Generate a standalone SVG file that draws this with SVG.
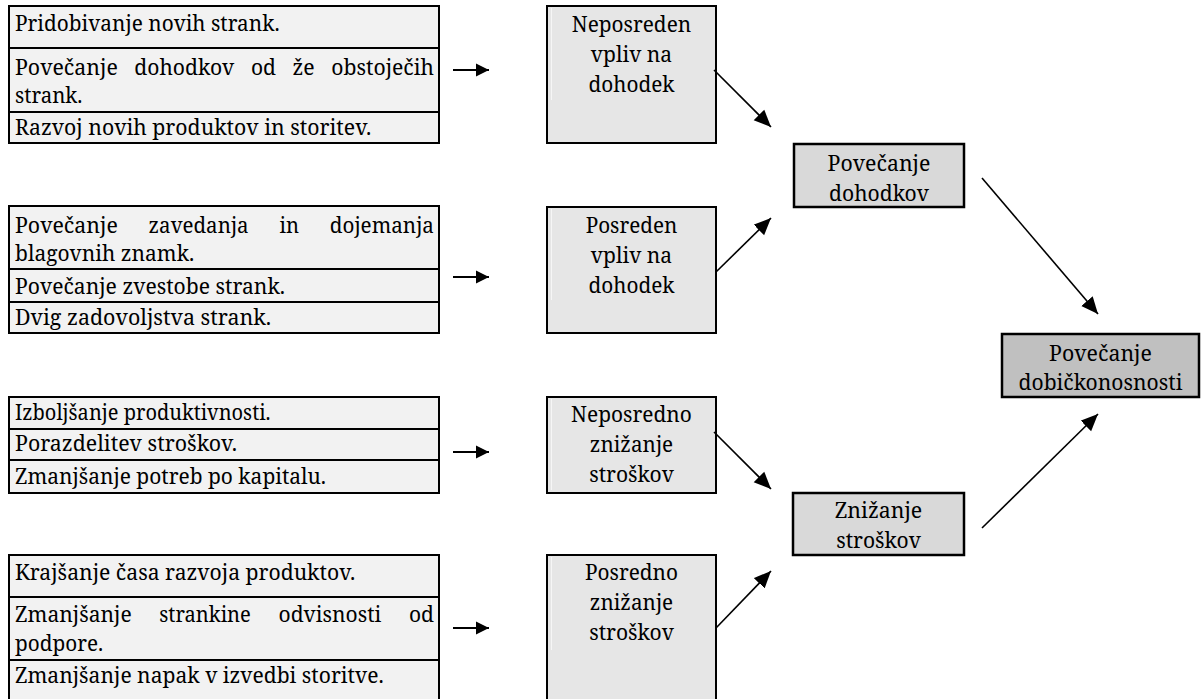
<svg xmlns="http://www.w3.org/2000/svg" width="1202" height="699" viewBox="0 0 1202 699">
<defs>
<style>
.t{font-family:'Noto Serif','DejaVu Serif','Liberation Serif',serif;font-size:21.5px;fill:#000}
.c{text-anchor:middle}
.row{fill:#f2f2f2;stroke:#000;stroke-width:2}
.mid{fill:#e6e6e6;stroke:#000;stroke-width:2}
.res{fill:#d9d9d9;stroke:#000;stroke-width:2.5}
.fin{fill:#c0c0c0;stroke:#000;stroke-width:2.5}
.hl{stroke:#f6f6f6;stroke-width:1}
.ar{stroke:#000;stroke-width:2;fill:none}
.dg{stroke:#000;stroke-width:1.6;fill:none}
</style>
<marker id="hs" markerUnits="userSpaceOnUse" markerWidth="14" markerHeight="14" refX="13" refY="7" orient="auto"><path d="M0,0.5 L13,7 L0,13.5 z" fill="#000"/></marker>
<marker id="hd" markerUnits="userSpaceOnUse" markerWidth="18" markerHeight="16" refX="17" refY="8" orient="auto"><path d="M0,0.5 L17,8 L0,15.5 z" fill="#000"/></marker>
</defs>
<rect width="1202" height="699" fill="#fff"/>

<g id="group1">
<rect class="row" x="9" y="6" width="430" height="42"/>
<rect class="row" x="9" y="48" width="430" height="64"/>
<rect class="row" x="9" y="112" width="430" height="31"/>
<text class="t" x="15" y="31" textLength="264.6" lengthAdjust="spacingAndGlyphs">Pridobivanje novih strank.</text>
<text class="t" x="15" y="75" textLength="102.8" lengthAdjust="spacingAndGlyphs">Povečanje</text>
<text class="t" x="134.3" y="75" textLength="100" lengthAdjust="spacingAndGlyphs">dohodkov</text>
<text class="t" x="250.9" y="75" textLength="25" lengthAdjust="spacingAndGlyphs">od</text>
<text class="t" x="292.4" y="75" textLength="22.2" lengthAdjust="spacingAndGlyphs">že</text>
<text class="t" x="331.2" y="75" textLength="102.8" lengthAdjust="spacingAndGlyphs">obstoječih</text>
<text class="t" x="15" y="103" textLength="67.4" lengthAdjust="spacingAndGlyphs">strank.</text>
<text class="t" x="15" y="135" textLength="356.3" lengthAdjust="spacingAndGlyphs">Razvoj novih produktov in storitev.</text>
</g>

<g id="group2">
<rect class="row" x="9" y="206" width="430" height="63"/>
<rect class="row" x="9" y="269" width="430" height="33"/>
<rect class="row" x="9" y="302" width="430" height="31"/>
<text class="t" x="15" y="233" textLength="102.8" lengthAdjust="spacingAndGlyphs">Povečanje</text>
<text class="t" x="148.6" y="233" textLength="100" lengthAdjust="spacingAndGlyphs">zavedanja</text>
<text class="t" x="279.5" y="233" textLength="19.5" lengthAdjust="spacingAndGlyphs">in</text>
<text class="t" x="329.8" y="233" textLength="104.2" lengthAdjust="spacingAndGlyphs">dojemanja</text>
<text class="t" x="15" y="261" textLength="179.2" lengthAdjust="spacingAndGlyphs">blagovnih znamk.</text>
<text class="t" x="15" y="294" textLength="270.1" lengthAdjust="spacingAndGlyphs">Povečanje zvestobe strank.</text>
<text class="t" x="15" y="325" textLength="256.2" lengthAdjust="spacingAndGlyphs">Dvig zadovoljstva strank.</text>
</g>

<g id="group3">
<rect class="row" x="9" y="397" width="430" height="32"/>
<rect class="row" x="9" y="429" width="430" height="31"/>
<rect class="row" x="9" y="460" width="430" height="33"/>
<text class="t" x="15" y="420" textLength="255.6" lengthAdjust="spacingAndGlyphs">Izboljšanje produktivnosti.</text>
<text class="t" x="15" y="451" textLength="222.2" lengthAdjust="spacingAndGlyphs">Porazdelitev stroškov.</text>
<text class="t" x="15" y="484" textLength="311.1" lengthAdjust="spacingAndGlyphs">Zmanjšanje potreb po kapitalu.</text>
</g>

<g id="group4">
<rect class="row" x="9" y="555" width="430" height="42"/>
<rect class="row" x="9" y="597" width="430" height="63"/>
<rect class="row" x="9" y="660" width="430" height="44"/>
<text class="t" x="15" y="580" textLength="340.2" lengthAdjust="spacingAndGlyphs">Krajšanje časa razvoja produktov.</text>
<text class="t" x="15" y="622" textLength="116.7" lengthAdjust="spacingAndGlyphs">Zmanjšanje</text>
<text class="t" x="159.2" y="622" textLength="91.7" lengthAdjust="spacingAndGlyphs">strankine</text>
<text class="t" x="278.5" y="622" textLength="102.8" lengthAdjust="spacingAndGlyphs">odvisnosti</text>
<text class="t" x="408.9" y="622" textLength="25" lengthAdjust="spacingAndGlyphs">od</text>
<text class="t" x="15" y="651" textLength="88.2" lengthAdjust="spacingAndGlyphs">podpore.</text>
<text class="t" x="15" y="683" textLength="368.7" lengthAdjust="spacingAndGlyphs">Zmanjšanje napak v izvedbi storitve.</text>
</g>

<g id="neposreden-vpliv">
<rect class="mid" x="547" y="6" width="169" height="137"/>
<line class="hl" x1="551.5" y1="8" x2="551.5" y2="100"/>
<text class="t c" x="631.5" y="32" textLength="119.4" lengthAdjust="spacingAndGlyphs">Neposreden</text>
<text class="t c" x="631.5" y="62" textLength="81.3" lengthAdjust="spacingAndGlyphs">vpliv na</text>
<text class="t c" x="631.5" y="92" textLength="86.1" lengthAdjust="spacingAndGlyphs">dohodek</text>
</g>

<g id="posreden-vpliv">
<rect class="mid" x="547" y="207" width="169" height="126"/>
<line class="hl" x1="551.5" y1="209" x2="551.5" y2="300"/>
<text class="t c" x="631.5" y="233" textLength="91.7" lengthAdjust="spacingAndGlyphs">Posreden</text>
<text class="t c" x="631.5" y="263" textLength="81.3" lengthAdjust="spacingAndGlyphs">vpliv na</text>
<text class="t c" x="631.5" y="293" textLength="86.1" lengthAdjust="spacingAndGlyphs">dohodek</text>
</g>

<g id="neposredno-znizanje">
<rect class="mid" x="547" y="397" width="169" height="96"/>
<line class="hl" x1="551.5" y1="399" x2="551.5" y2="490"/>
<text class="t c" x="631.5" y="422" textLength="120.8" lengthAdjust="spacingAndGlyphs">Neposredno</text>
<text class="t c" x="631.5" y="452" textLength="83.3" lengthAdjust="spacingAndGlyphs">znižanje</text>
<text class="t c" x="631.5" y="482" textLength="84.7" lengthAdjust="spacingAndGlyphs">stroškov</text>
</g>

<g id="posredno-znizanje">
<rect class="mid" x="547" y="555" width="169" height="150"/>
<line class="hl" x1="551.5" y1="557" x2="551.5" y2="650"/>
<text class="t c" x="631.5" y="580" textLength="93.1" lengthAdjust="spacingAndGlyphs">Posredno</text>
<text class="t c" x="631.5" y="610" textLength="83.3" lengthAdjust="spacingAndGlyphs">znižanje</text>
<text class="t c" x="631.5" y="640" textLength="84.7" lengthAdjust="spacingAndGlyphs">stroškov</text>
</g>

<g id="povecanje-dohodkov">
<rect class="res" x="794" y="144" width="170" height="63"/>
<text class="t c" x="879" y="171" textLength="102.8" lengthAdjust="spacingAndGlyphs">Povečanje</text>
<text class="t c" x="879" y="201" textLength="100" lengthAdjust="spacingAndGlyphs">dohodkov</text>
</g>

<g id="znizanje-stroskov">
<rect class="res" x="793" y="493" width="171" height="62"/>
<text class="t c" x="878.5" y="518" textLength="87.5" lengthAdjust="spacingAndGlyphs">Znižanje</text>
<text class="t c" x="878.5" y="548" textLength="84.7" lengthAdjust="spacingAndGlyphs">stroškov</text>
</g>

<g id="povecanje-dobickonosnosti">
<rect class="fin" x="1002" y="334" width="197" height="63"/>
<text class="t c" x="1100.5" y="361" textLength="102.8" lengthAdjust="spacingAndGlyphs">Povečanje</text>
<text class="t c" x="1100.5" y="390" textLength="163.9" lengthAdjust="spacingAndGlyphs">dobičkonosnosti</text>
</g>

<g id="connectors">
<line class="ar" x1="453" y1="70" x2="489" y2="70" marker-end="url(#hs)"/>
<line class="ar" x1="453" y1="277" x2="489" y2="277" marker-end="url(#hs)"/>
<line class="ar" x1="453" y1="452" x2="489" y2="452" marker-end="url(#hs)"/>
<line class="ar" x1="453" y1="628" x2="489" y2="628" marker-end="url(#hs)"/>
<line class="dg" x1="714" y1="70" x2="771" y2="127" marker-end="url(#hd)"/>
<line class="dg" x1="716" y1="272" x2="771" y2="218" marker-end="url(#hd)"/>
<line class="dg" x1="714" y1="432" x2="771" y2="489" marker-end="url(#hd)"/>
<line class="dg" x1="716" y1="628" x2="771" y2="571" marker-end="url(#hd)"/>
<line class="dg" x1="982" y1="178" x2="1098" y2="314" marker-end="url(#hd)"/>
<line class="dg" x1="982" y1="528" x2="1098" y2="414" marker-end="url(#hd)"/>
</g>
</svg>
